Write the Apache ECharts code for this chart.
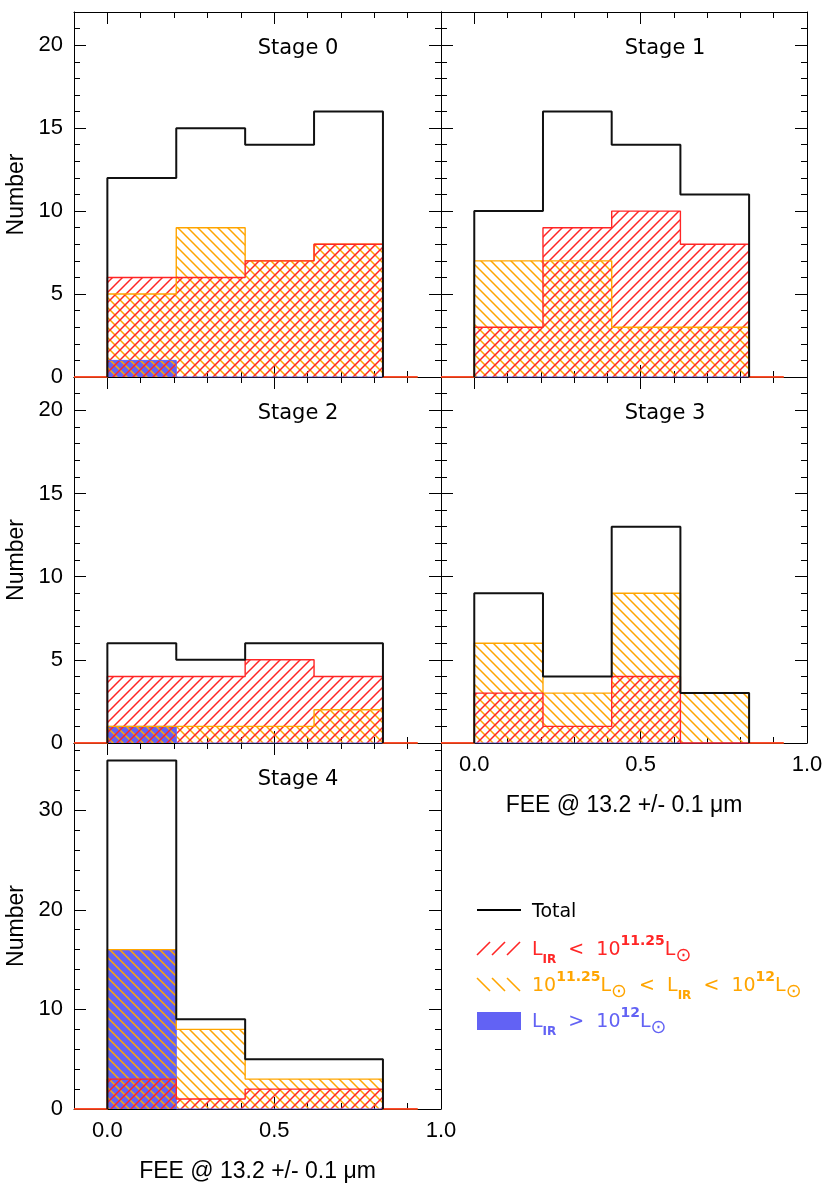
<!DOCTYPE html>
<html>
<head>
<meta charset="utf-8">
<title>FEE histograms</title>
<script src="https://cdn.jsdelivr.net/npm/echarts@6/dist/echarts.min.js"></script>
<style>
  html, body { margin: 0; padding: 0; background: #fff; }
  #main { width: 830px; height: 1193px; }
</style>
</head>
<body>
<div id="main"></div>
<script>
// one panel per merger stage
var stageNames = ['Stage 0', 'Stage 1', 'Stage 2', 'Stage 3', 'Stage 4'];
// histogram bin edges (FEE)
var binEdges = [0, 0.2065, 0.413, 0.6195, 0.826];
// the coloured outlines run along zero a little past the bins
var zeroRun = [-0.1, 0.93];

// counts per bin, one row per stage
var totalCounts = [
    [12, 15, 14, 16],
    [10, 16, 14, 11],
    [6, 5, 6, 6],
    [9, 4, 13, 3],
    [35, 9, 5, 5]
];
// L_IR < 10^11.25 Lsun
var lowLirCounts = [
    [6, 6, 7, 8],
    [3, 9, 10, 8],
    [4, 4, 5, 4],
    [3, 1, 4, 0],
    [3, 1, 2, 2]
];
// 10^11.25 < L_IR < 10^12
var midLirCounts = [
    [5, 9, 7, 8],
    [7, 7, 3, 3],
    [1, 1, 1, 2],
    [6, 3, 9, 3],
    [16, 8, 3, 3]
];
// L_IR > 10^12
var highLirCounts = [
    [1, 0, 0, 0],
    [0, 0, 0, 0],
    [1, 0, 0, 0],
    [0, 0, 0, 0],
    [16, 0, 0, 0]
];

// ticks
var xMajor = [0, 0.5, 1.0];
var xMinor = [0, 0.1, 0.2, 0.3, 0.4, 0.5, 0.6, 0.7, 0.8, 0.9, 1.0];
var yMajor = [0, 5, 10, 15, 20];
var yMinor = [0, 1, 2, 3, 4, 5, 6, 7, 8, 9, 10, 11, 12, 13, 14, 15, 16, 17, 18, 19, 20, 21, 22];
var yMajor4 = [0, 10, 20, 30];
var yMinor4 = [0, 2, 4, 6, 8, 10, 12, 14, 16, 18, 20, 22, 24, 26, 28, 30, 32, 34, 36];
var yMax = [22, 22, 22, 22, 36.75];

var RED = '#ff2626', ORANGE = '#ffa500', BLUE = '#6262f4';
var AXFONT = 'Liberation Sans', TXFONT = 'DejaVu Sans';

// panel boxes
var grids = [
    {left: 74, top: 12, width: 367, height: 365},
    {left: 441, top: 12, width: 366, height: 365},
    {left: 74, top: 377, width: 367, height: 366},
    {left: 441, top: 377, width: 366, height: 366},
    {left: 74, top: 743, width: 367, height: 366}
];

// hatch tile, '/' or '\'
function hatch(color, dir) {
    var s = 10;
    var c = document.createElement('canvas');
    c.width = s; c.height = s;
    var g = c.getContext('2d');
    g.strokeStyle = color;
    g.lineWidth = 1.5;
    g.beginPath();
    for (var k = -1; k <= 1; k++) {
        if (dir === '/') {
            g.moveTo(k * s - 1, s + 1);
            g.lineTo(k * s + s + 1, -1);
        } else {
            g.moveTo(k * s - 1, -1);
            g.lineTo(k * s + s + 1, s + 1);
        }
    }
    g.stroke();
    return c;
}
var redHatch = hatch(RED, '/');
var orangeHatch = hatch(ORANGE, '\\');

function stepData(counts, ext) {
    var pts = [];
    if (ext) pts.push([zeroRun[0], 0]);
    pts.push([binEdges[0], 0]);
    for (var i = 0; i < counts.length; i++) pts.push([binEdges[i], counts[i]]);
    pts.push([binEdges[binEdges.length - 1], 0]);
    if (ext) pts.push([zeroRun[1], 0]);
    return pts;
}

var xAxes = [], yAxes = [], series = [], graphics = [];

function mkAxis(p, pos, ticks, len, lineOn, labelOn, max, min, isX) {
    var a = {
        type: 'value', gridIndex: p, position: pos, min: min, max: max,
        axisLine: {show: lineOn, onZero: false, lineStyle: {color: '#000', width: 1}},
        axisTick: {show: true, inside: true, length: len, customValues: ticks,
                   lineStyle: {color: '#000', width: 1}},
        axisLabel: {show: labelOn, customValues: ticks, margin: 11, fontSize: 22,
                    fontFamily: AXFONT, color: '#000',
                    formatter: isX ? function (v) { return v.toFixed(1); } : function (v) { return String(v); }},
        splitLine: {show: false},
        minorTick: {show: false}
    };
    return a;
}

for (var p = 0; p < 5; p++) {
    var labX = (p === 3 || p === 4);
    var labY = (p % 2 === 0);
    var ym = p === 4 ? yMajor4 : yMajor;
    var yn = p === 4 ? yMinor4 : yMinor;

    var xb = mkAxis(p, 'bottom', xMajor, 12, true, labX, 1.0, -0.1, true);
    if (labX) {
        xb.name = 'FEE @ 13.2 +/- 0.1 \u03bcm';
        xb.nameLocation = 'middle';
        xb.nameGap = 51;
        xb.nameTextStyle = {fontSize: 23, fontFamily: AXFONT, color: '#000'};
    }
    xAxes.push(xb);
    xAxes.push(mkAxis(p, 'bottom', xMinor, 6, false, false, 1.0, -0.1, true));
    xAxes.push(mkAxis(p, 'top', xMajor, 12, true, false, 1.0, -0.1, true));
    xAxes.push(mkAxis(p, 'top', xMinor, 6, false, false, 1.0, -0.1, true));

    var yl = mkAxis(p, 'left', ym, 12, true, labY, yMax[p], 0, false);
    if (labY) {
        yl.name = 'Number';
        yl.nameLocation = 'middle';
        yl.nameRotate = 90;
        yl.nameGap = 46;
        yl.nameTextStyle = {fontSize: 23, fontFamily: AXFONT, color: '#000'};
    }
    yAxes.push(yl);
    yAxes.push(mkAxis(p, 'left', yn, 6, false, false, yMax[p], 0, false));
    yAxes.push(mkAxis(p, 'right', ym, 12, true, false, yMax[p], 0, false));
    yAxes.push(mkAxis(p, 'right', yn, 6, false, false, yMax[p], 0, false));

    var base = {type: 'line', step: 'end', showSymbol: false, symbol: 'none',
                xAxisIndex: 4 * p, yAxisIndex: 4 * p, silent: true};
    series.push(Object.assign({}, base, {
        data: stepData(highLirCounts[p], false),
        lineStyle: {color: BLUE, width: 1},
        areaStyle: {color: BLUE, opacity: 1}
    }));
    series.push(Object.assign({}, base, {
        data: stepData(midLirCounts[p], true),
        lineStyle: {color: ORANGE, width: 1.4},
        areaStyle: {color: {image: orangeHatch, repeat: 'repeat'}, opacity: 1}
    }));
    series.push(Object.assign({}, base, {
        data: stepData(lowLirCounts[p], true),
        lineStyle: {color: RED, width: 1.4},
        areaStyle: {color: {image: redHatch, repeat: 'repeat'}, opacity: 1}
    }));
    series.push(Object.assign({}, base, {
        data: stepData(totalCounts[p], false),
        lineStyle: {color: '#111', width: 2}
    }));

    graphics.push({
        type: 'text',
        style: {
            x: grids[p].left + 224, y: grids[p].top + 37,
            text: stageNames[p], fontSize: 21, fontFamily: TXFONT, fill: '#000',
            align: 'center', verticalAlign: 'middle',
            textAlign: 'center', textVerticalAlign: 'middle'
        }
    });
}

// legend
function legendText(y, txt, color) {
    return {
        type: 'text',
        style: {
            x: 532, y: y, text: txt, fill: color,
            verticalAlign: 'middle', textVerticalAlign: 'middle',
            rich: {
                m: {fontSize: 19, fontFamily: TXFONT, fill: color, lineHeight: 32, verticalAlign: 'middle'},
                sub: {fontSize: 12, fontWeight: 'bold', fontFamily: TXFONT, fill: color, verticalAlign: 'bottom'},
                sun: {fontSize: 19, fontFamily: TXFONT, fill: color, verticalAlign: 'bottom'},
                sup: {fontSize: 14, fontWeight: 'bold', fontFamily: TXFONT, fill: color, verticalAlign: 'top'}
            }
        }
    };
}
graphics.push({type: 'line', shape: {x1: 477, y1: 910, x2: 521, y2: 910},
               style: {stroke: '#000', lineWidth: 2}});
graphics.push({type: 'text', style: {x: 532, y: 912, text: 'Total', fontSize: 19,
               fontFamily: TXFONT, fill: '#000', verticalAlign: 'middle', textVerticalAlign: 'middle'}});
for (var k = 0; k < 3; k++) {
    graphics.push({type: 'line', shape: {x1: 477 + 15 * k, y1: 955, x2: 490 + 15 * k, y2: 942},
                   style: {stroke: RED, lineWidth: 1.6}});
    graphics.push({type: 'line', shape: {x1: 477 + 15 * k, y1: 978, x2: 490 + 15 * k, y2: 991},
                   style: {stroke: ORANGE, lineWidth: 1.6}});
}
graphics.push(legendText(950, '{m|L}{sub|IR}{m|  <  10}{sup|11.25}{m|L}{sun|\u2299}', RED));
graphics.push(legendText(986, '{m|10}{sup|11.25}{m|L}{sun|\u2299}{m|  <  L}{sub|IR}{m|  <  10}{sup|12}{m|L}{sun|\u2299}', ORANGE));
graphics.push({type: 'rect', shape: {x: 477, y: 1012, width: 44, height: 18},
               style: {fill: BLUE}});
graphics.push(legendText(1022, '{m|L}{sub|IR}{m|  >  10}{sup|12}{m|L}{sun|\u2299}', BLUE));

var myChart = echarts.init(document.getElementById('main'), null, {renderer: 'canvas'});
var option = {
    animation: false,
    backgroundColor: '#fff',
    grid: grids,
    xAxis: xAxes,
    yAxis: yAxes,
    series: series,
    graphic: graphics
};
myChart.setOption(option);
</script>
</body>
</html>
